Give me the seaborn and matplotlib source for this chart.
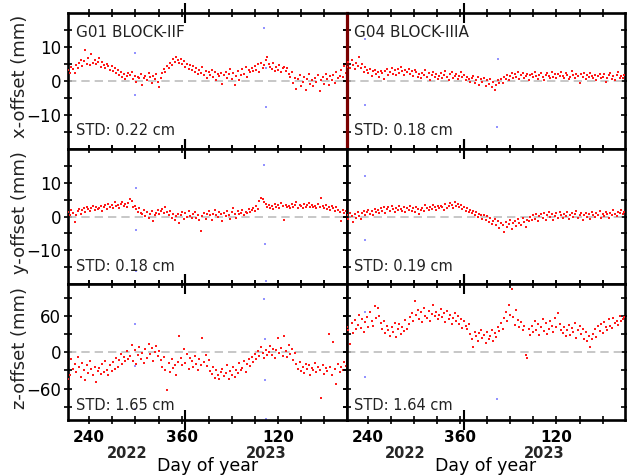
import numpy as np
import pandas as pd
import matplotlib
matplotlib.use("Agg")
import matplotlib.pyplot as plt
import matplotlib.transforms as mtransforms
import seaborn as sns

# Continuous day counter: 2022 day-of-year, continued into 2023 (2023 day N -> 365 + N)
days = np.arange(213, 574, 2)
year_start_2023 = 365

# ---- daily offsets (mm) ----
g01_x = [3.1, 2.4, 4.0, 3.6, 2.2, 4.8, 3.9, 5.2, 6.1, 4.4, 5.9, 9.1, 5.0, 6.6, 4.7, 7.8, 5.3, 6.2, 4.9, 5.6,
         6.8, 4.1, 5.5, 4.6, 3.8, 5.0, 4.3, 3.2, 4.5, 2.9, 3.7, 2.4, 3.3, 1.8, 2.6, 1.2, 2.0, 0.6, 1.5, 2.2,
         1.7, 2.6, 0.4, 1.3, -0.3, 1.0, 0.7, 1.9, -1.2, 0.9, 1.5, 0.2, 2.3, 1.1, -0.6, 1.4, 0.5, 2.0, -0.4, -1.8,
         0.8, 2.2, 3.4, 2.7, 4.5, 3.9, 5.4, 4.8, 6.3, 5.6, 6.9, 6.1, 5.3, 6.5, 4.9, 5.8, 4.2, 5.0, 3.6, 4.6,
         3.1, 4.3, 2.6, 3.8, 1.9, 3.3, 2.4, 4.1, 1.6, 2.9, 0.8, 2.5, 1.8, 3.2, 1.1, 2.7, 0.3, 2.0, 1.4, 2.4,
         -0.8, 1.6, 2.5, 0.9, 1.9, 3.6, 0.6, 2.2, -1.1, 1.3, 2.8, 0.2, 1.7, 3.4, 2.1, 4.0, 1.2, 3.1, 2.6, 3.9,
         2.8, 4.4, 3.3, 4.9, 2.7, 5.3, 3.9, 4.6, 6.2, 7.1, 5.0, 4.2, 3.6, 5.4, 2.9, 4.1, 3.3, 4.8, 2.5, 3.7,
         4.2, 3.0, 3.8, 2.1, 1.2, 2.6, -0.7, 0.8, -2.3, 0.4, 1.8, -1.5, -0.2, 1.1, -2.8, 0.6, 1.9, -0.9, 0.1, -1.6,
         0.9, -0.4, 1.7, -2.9, 0.3, 1.2, -0.8, 2.0, 0.5, -1.3, 1.4, 0.2, 1.8, -0.5, 2.6, 0.7, 1.5, 3.2, 1.0, 4.5,
         2.4]

g04_x = [4.2, 5.6, 3.9, 6.1, 4.8, 3.5, 5.2, 4.4, 6.9, 3.8, 5.0, 2.7, 4.1, 3.2, 2.4, 3.6, 1.5, 2.9, 3.3, 1.9,
         2.6, 1.1, 3.0, 2.2, 0.4, 2.8, 3.4, 1.6, 2.5, 3.9, 2.0, 3.1, 1.8, 3.6, 2.3, 4.2, 2.9, 1.7, 3.3, 2.6,
         3.5, 2.1, 2.8, 1.4, 3.2, 2.5, 1.2, 2.0, 0.7, 2.4, 1.6, 3.1, 1.0, 2.2, 0.3, 1.7, 2.6, 1.1, 1.9, 0.6,
         1.4, 2.3, 0.8, 1.7, 2.8, 1.2, 0.2, 1.9, 2.5, 0.9, 1.5, 2.1, 0.4, 1.3, 2.7, 1.0, 1.8, 0.1, 1.2, 0.6,
         -0.2, 0.7, 1.3, -0.6, 0.3, 1.0, -1.1, 0.5, -0.3, 0.9, -1.5, 0.2, -0.8, 0.6, -1.9, -0.4, -2.8, -1.2, 0.1, -0.7,
         0.4, -0.5, 1.2, 0.6, 1.8, 0.2, 1.5, 2.3, 0.8, 1.9, 1.1, 2.6, 0.5, 1.7, 2.2, 0.9, 1.4, 2.0, 0.3, 1.6,
         2.1, 1.0, 2.7, 1.5, 0.6, 1.8, 2.4, 1.2, 0.2, 1.6, 2.2, 1.4, 0.8, 2.5, 1.1, 1.9, 0.7, 2.0, 1.3, 2.6,
         1.5, 0.9, 2.3, 1.7, 0.4, 1.2, 2.8, 1.6, 0.8, 2.0, 1.3, -0.6, 1.9, 1.1, 2.4, 0.6, 1.7, 1.0, 2.2, 1.4,
         0.9, 1.8, 0.3, 1.5, 2.1, 0.7, 1.2, 1.9, -0.4, 0.8, 1.6, 2.3, 0.5, 1.3, 0.1, 1.7, 2.6, 0.9, 1.4, 0.8,
         1.6]

g01_y = [1.2, 0.5, 1.8, 0.9, -1.6, 0.3, 1.5, 2.2, 0.7, 1.9, 2.6, 1.4, 2.9, 2.1, 1.6, 2.5, 3.0, 1.8, 2.7, 2.2,
         2.4, 3.1, 1.7, 2.8, 3.5, 2.3, 3.7, 2.9, 3.3, 2.6, 4.2, 3.0, 3.4, 2.5, 3.8, 4.4, 3.1, 3.6, 2.8, 4.1,
         5.3, 4.6, 2.7, 3.2, 2.1, 1.4, 2.6, 1.0, 0.6, 1.8, 0.2, 1.3, -0.5, 0.8, 1.6, -1.2, 0.4, 1.1, 2.0, 0.7,
         1.5, 2.3, 0.9, 2.8, 1.2, 0.3, 1.7, -0.4, 0.6, -0.9, 0.2, 0.8, -1.8, 0.4, 1.3, -0.6, 0.9, -0.2, 1.5, 0.1,
         -0.5, 0.7, 1.4, -0.3, 0.5, -1.1, -4.2, 0.2, 1.0, -0.7, 0.6, 1.6, 0.3, -0.9, 0.8, 1.9, 0.4, -0.2, 1.2, 0.6,
         -1.4, 0.9, 0.1, 1.7, 0.5, -0.6, 1.3, 2.4, 0.8, -0.3, 1.5, 0.6, 1.1, 2.0, 0.4, 1.4, 0.9, 2.3, 1.2, 1.8,
         2.4, 1.6, 3.0, 2.1, 4.6, 5.6, 5.1, 4.4, 3.6, 2.8, 3.4, 2.5, 3.1, 2.2, 3.7, 2.9, 3.3, 2.6, 3.9, 3.0,
         -1.0, 3.5, 2.7, 3.2, 2.4, 3.8, 2.9, 3.3, 4.2, 2.6, 3.5, 3.1, 2.4, 3.6, 2.8, 3.3, 4.0, 2.7, 3.4, 2.9,
         3.2, 2.5, 3.7, 2.9, 5.4, 3.1, 2.6, 3.3, 2.2, 2.9, 1.8, 3.0, 2.4, 1.6, 2.7, 2.0, 1.3, -1.2, 1.8, 1.1,
         1.5]

g04_y = [0.4, -0.8, 1.1, 0.2, -1.5, 0.7, -0.3, 1.4, 0.1, -0.6, 0.9, 1.6, 0.3, 1.2, 2.0, 0.8, 1.5, 0.5, 2.2, 1.3,
         1.8, 0.9, 2.4, 1.5, 2.9, 1.1, 2.1, 2.7, 1.6, 3.2, 2.3, 1.4, 2.6, 1.9, 3.0, 2.2, 1.7, 2.8, 1.3, 2.5,
         2.0, 3.1, 1.6, 2.4, 1.2, 2.9, 2.2, 0.8, 1.9, 2.6, 1.5, 3.3, 2.4, 1.8, 2.9, 2.1, 3.5, 2.7, 1.9, 3.0,
         2.4, 3.2, 2.8, 1.9, 3.6, 2.5, 3.0, 4.1, 3.4, 2.6, 4.4, 3.1, 3.8, 2.7, 3.3, 2.2, 2.9, 1.6, 2.4, 1.2,
         2.0, 0.9, 1.6, 0.4, 1.3, -0.2, 0.8, 0.3, -0.6, 0.5, -1.0, 0.1, -1.5, -0.4, -2.1, -1.2, -0.7, -2.6, -1.4, -3.3,
         -1.8, -2.5, -4.6, -1.6, -3.0, -2.2, -1.1, -3.6, -2.0, -1.3, -2.7, -0.8, -1.9, -2.4, -0.5, -1.6, -3.1, -0.9, -1.4, -0.2,
         -1.0, 0.3, -0.6, 0.8, -1.3, 0.1, 0.6, -0.4, 1.0, -0.9, 0.4, 1.3, -0.2, 0.7, -1.1, 0.2, 0.9, -0.5, 1.2, 0.3,
         -0.3, 0.8, 0.2, 1.4, -0.7, 0.5, 1.0, -0.1, 0.6, 1.5, -0.4, 0.3, 0.9, -0.9, 0.4, 1.1, 0.0, 0.7, -0.6, 1.2,
         0.5, -0.2, 1.0, 0.3, 1.6, -0.5, 0.8, 0.2, 1.3, 0.6, -0.3, 1.1, 0.4, 1.8, 0.7, 0.1, 1.4, 0.9, 2.0, 0.6,
         1.2]

g01_z = [-45, -38, -12, -28, -20, -33, -8, -25, -41, -18, -30, -46, -22, -35, -15, -27, -38, -24, -50, -31,
         -26, -36, -20, -32, -14, -29, -38, -22, -31, -17, -27, -9, -24, -13, -3, -19, -8, -15, 2, -11,
         -6, 12, -14, 3, -20, -4, 8, -12, -1, -18, 5, -9, 14, -3, 7, -15, 0, 10, -7, 2,
         -13, -25, -8, -30, -62, -18, -33, -12, -26, -21, -37, -16, 26, -10, -22, 5, -18, -3, -27, -9,
         -14, -24, -6, -19, -29, -11, -21, 24, -16, -4, -23, -13, -31, -36, -25, -42, -30, -38, -45, -33,
         -27, -40, -34, -22, -44, -31, -37, -24, -41, -29, -35, -18, -30, -26, -14, -33, -20, -11, -23, -8,
         -16, -3, -12, 2, -7, 8, -2, -10, 4, -5, 1, 10, -4, 6, -9, 3, 24, -2, 7, -6,
         26, 2, -8, 12, -3, 5, -13, -1, -20, -28, -17, -31, -24, -35, -19, -27, -22, -38, -26, -30,
         -18, -33, -25, -29, -75, -21, -36, -26, -31, 30, -24, -37, 17, -28, -52, -20, -33, -24, -29, -17,
         -23]

g04_z = [42, 36, 14, 48, 31, 53, 38, 45, 62, 40, 55, 34, 49, 58, 42, 67, 51, 44, 77, 56,
         73, 60, 48, 39, 52, 31, 44, 36, 27, 41, 33, 48, 25, 38, 46, 30, 42, 35, 53, 39,
         47, 58, 64, 52, 84, 61, 70, 55, 66, 49, 73, 60, 57, 68, 51, 63, 78, 59, 66, 54,
         62, 71, 58, 65, 50, 68, 55, 61, 47, 57, 64, 52, 59, 46, 55, 40, 51, 43, 38, 46,
         30, 22, 8, 34, 26, 18, 31, 37, 24, 29, 15, 33, 21, 27, 36, 19, 32, 25, 42, 35,
         48, 39, 57, 66, 52, 78, 61, 104, 58, 45, 70, 53, 41, 49, 36, 44, -5, -10, 38, 29,
         44, 33, 51, 37, 46, 28, 42, 55, 35, 48, 30, 39, 52, 43, 34, 57, 41, 64, 47, 36,
         31, 42, 26, 37, 45, 29, 40, 33, 48, 24, 36, 43, 30, 38, 22, 34, 18, 27, 8, 21,
         30, 38, 25, 43, 35, 46, 32, 50, 41, 37, 54, 44, 40, 57, 48, 52, 45, 60, 51, 55,
         58]

# ---- rejected epochs (mm) ----
g01_rej_days = [300, 300, 467, 469, 469]
g01_rej_x = [8.2, -4.1, 15.6, 3.8, -7.6]
g04_rej_days = [236, 236, 409, 408]
g04_rej_x = [12.4, -7.0, 6.4, -13.5]
g01_rej_ydays = [301, 301, 301, 467, 468, 469]
g01_rej_y = [8.5, -4.1, -16.2, 15.3, -8.0, -19.0]
g04_rej_ydays = [236, 237]
g04_rej_y = [12.0, -7.0]
g01_rej_zdays = [300, 300, 300, 467, 468, 468, 469]
g01_rej_z = [46, -23, -94, 87, 21, -46, -110]
g04_rej_zdays = [236, 237, 408]
g04_rej_z = [67, -41, -77]

satellites = ["G01 BLOCK-IIF", "G04 BLOCK-IIIA"]
components = ["x-offset (mm)", "y-offset (mm)", "z-offset (mm)"]
std_labels = [["STD: 0.22 cm", "STD: 0.18 cm"],
              ["STD: 0.18 cm", "STD: 0.19 cm"],
              ["STD: 1.65 cm", "STD: 1.64 cm"]]
series = [[g01_x, g04_x], [g01_y, g04_y], [g01_z, g04_z]]
rejected = [[(g01_rej_days, g01_rej_x), (g04_rej_days, g04_rej_x)],
            [(g01_rej_ydays, g01_rej_y), (g04_rej_ydays, g04_rej_y)],
            [(g01_rej_zdays, g01_rej_z), (g04_rej_zdays, g04_rej_z)]]

y_limits = [(-20, 20), (-20, 20), (-112, 112)]
y_major = [[-10, 0, 10], [-10, 0, 10], [-60, 0, 60]]
y_minor = [[-15, -5, 5, 15], [-15, -5, 5, 15], [-90, -30, 30, 90]]

x_limits = (212.5, 574)
x_ticks = [240, 270, 300, 330, 360, 395, 425, 455, 485, 515, 545]
x_ticklabels = ["240", "", "", "", "360", "", "", "", "120", "", ""]
year_names = ["2022", "2023"]

sns.set_theme(style="white")
plt.rcParams["font.family"] = ["DejaVu Sans"]
plt.rcParams["axes.unicode_minus"] = True

fig, axes = plt.subplots(3, 2, figsize=(6.27, 4.76), dpi=100)
fig.subplots_adjust(left=68 / 627, right=625 / 627, top=1 - 13 / 476,
                    bottom=1 - 420 / 476, hspace=0, wspace=0)

std_y = [0.10, 0.095, 0.075]

for r in range(3):
    for c in range(2):
        ax = axes[r, c]
        df = pd.DataFrame({"day": days, "offset": series[r][c]})
        rd, rv = rejected[r][c]
        df_rej = pd.DataFrame({"day": rd, "offset": rv})

        ax.axhline(0, color="#bdbdbd", lw=1.2, ls=(0, (5, 3)), zorder=1)
        sns.scatterplot(data=df, x="day", y="offset", ax=ax, color="#ff1a1a",
                        marker="s", s=2.2, linewidth=0, zorder=3)
        sns.scatterplot(data=df_rej, x="day", y="offset", ax=ax, color="#3a3aff",
                        marker="s", s=2.0, linewidth=0, alpha=0.55, zorder=2)

        ax.set_xlim(*x_limits)
        ax.set_ylim(*y_limits[r])
        ax.set_xlabel("")
        ax.set_ylabel("")

        # year boundary as a long major tick, regular day ticks as minor
        ax.set_xticks([year_start_2023])
        ax.set_xticklabels([""])
        ax.set_xticks(x_ticks, labels=x_ticklabels, minor=True)
        ax.set_yticks(y_major[r])
        ax.set_yticks(y_minor[r], minor=True)

        ax.tick_params(axis="both", which="both", direction="inout", colors="black",
                       top=True, right=True, bottom=True, left=True)
        ax.tick_params(axis="x", which="major", length=14, width=1.5)
        ax.tick_params(axis="x", which="minor", length=6, width=1.2, pad=4,
                       labelsize=11, labelbottom=(r == 2))
        ax.tick_params(axis="y", which="both", length=6, width=1.2, pad=2,
                       labelsize=12, labelleft=(c == 0))
        for lbl in ax.get_xticklabels(minor=True):
            lbl.set_fontweight("bold")

        for side, sp in ax.spines.items():
            sp.set_visible(True)
            sp.set_color("black")
            sp.set_linewidth(1.9)
        if r == 0 and c == 1:
            ax.spines["left"].set_color("#7a0000")
            ax.spines["left"].set_linewidth(2.3)

        ax.text(0.027, std_y[r], std_labels[r][c], transform=ax.transAxes,
                fontsize=10.5, va="baseline", ha="left", color="#222222", zorder=5)
        if r == 0:
            ax.text(0.027, 0.82, satellites[c], transform=ax.transAxes,
                    fontsize=11, va="baseline", ha="left", color="#222222", zorder=5)

        if c == 0:
            ax.set_ylabel(components[r], fontsize=13, color="#222222")
            ax.yaxis.set_label_coords(-0.14, 0.53)

        if r == 2:
            trans = mtransforms.blended_transform_factory(ax.transData, ax.transAxes)
            mids = [(x_limits[0] + year_start_2023) / 2, (year_start_2023 + x_limits[1]) / 2]
            for xm, name in zip(mids, year_names):
                ax.text(xm, -0.245, name, transform=trans, fontsize=10.5,
                        fontweight="bold", ha="center", va="center")
            ax.set_xlabel("Day of year", fontsize=12.5, color="black")
            ax.xaxis.set_label_coords(0.5, -0.275)

fig.savefig("out.png", dpi=100)
